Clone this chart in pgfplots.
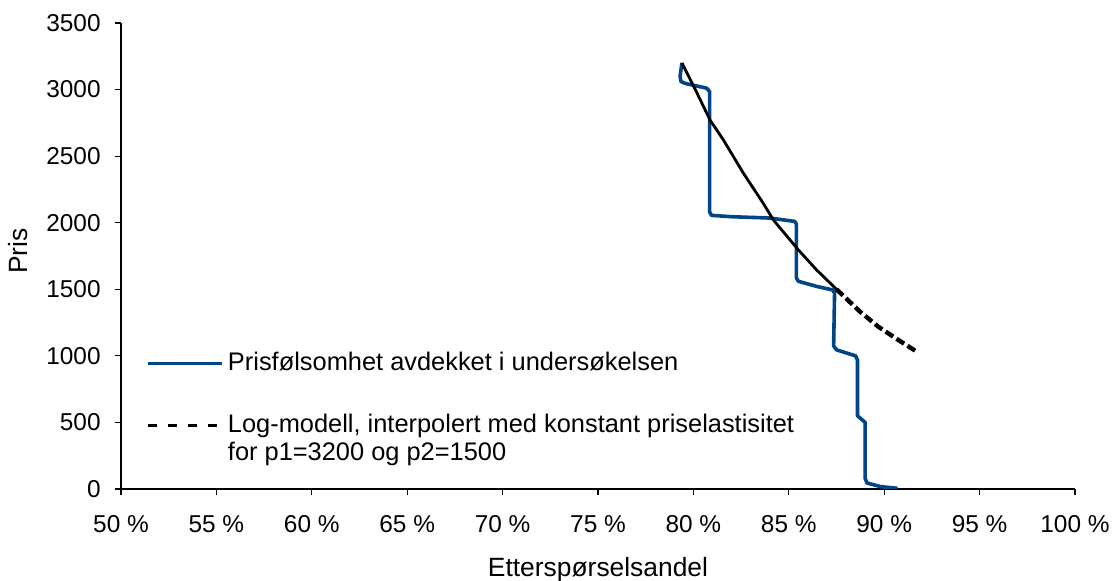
\documentclass[border=0pt]{standalone}
\usepackage{pgfplots}
\pgfplotsset{compat=1.18}
\usepackage{fontspec}
\setmainfont{Liberation Sans}
\definecolor{bluel}{RGB}{0,69,134}
\begin{document}
\fontsize{12pt}{14pt}\selectfont
\begin{tikzpicture}[font=\fontsize{12pt}{14pt}\selectfont]
\path[use as bounding box] (-60.5pt,-46pt) rectangle (499.5pt,244.5pt);
\begin{axis}[
  at={(0,0)}, anchor=south west,
  width=477pt, height=233pt, scale only axis,
  xmin=50, xmax=100, ymin=0, ymax=3500,
  axis x line*=bottom, axis y line*=left,
  axis line style={-, black, line width=0.6pt},
  xtick={50,55,...,100},
  xticklabels={50 \%,55 \%,60 \%,65 \%,70 \%,75 \%,80 \%,85 \%,90 \%,95 \%,100 \%},
  ytick={0,500,...,3500},
  tick align=outside,
  major tick length=3pt,
  tick style={black, line width=0.6pt},
  tick label style={font=\fontsize{12.2pt}{14pt}\selectfont},
  yticklabel style={/pgf/number format/1000 sep={}, /pgf/number format/assume math mode=true, inner sep=0pt, anchor=east, xshift=-7pt},
  xticklabel style={inner sep=0pt, anchor=north, yshift=-10pt},
  xlabel={Etterspørselsandel},
  xlabel style={at={(axis description cs:0.5,-0.1882)}, anchor=base, inner sep=0pt, font=\fontsize{13.2pt}{14pt}\selectfont},
  ylabel={Pris},
  ylabel style={at={(axis description cs:-0.09853,0.5107)}, anchor=base, inner sep=0pt, font=\fontsize{13.2pt}{14pt}\selectfont},
  legend cell align=left,
  legend image code/.code={\draw[#1] (0pt,0pt) -- (37pt,0pt);},
  legend style={at={(axis description cs:0.0262,0.294)}, anchor=north west, draw=none, fill=none, inner sep=0pt, row sep=20pt, column sep=2pt, font=\fontsize{12.7pt}{14pt}\selectfont, nodes={inner sep=0pt}},
]
\addplot[bluel, line width=1.8pt, line join=round] coordinates {
(79.4,3200)(79.3,3100)(79.35,3060)(79.6,3045)(80.7,3010)(80.85,2985)
(80.85,2080)(80.95,2055)(82,2045)(84,2035)(85.3,2010)(85.4,1990)
(85.4,1585)(85.5,1560)(86.5,1520)(87.3,1495)(87.4,1470)
(87.35,1075)(87.5,1045)(88.5,1000)(88.6,970)
(88.6,550)(89.0,500)(89.0,80)(89.1,45)(89.8,18)(90.7,5)
};
\addlegendentry{Prisfølsomhet avdekket i undersøkelsen}
\addplot[black, line width=1.4pt, forget plot] coordinates {
(79.4,3200)(80.1,3000)(80.87,2772)(81.57,2622)(82.62,2372)(83.66,2146)
(84.19,2021)(85.5,1796)(86.46,1645)(87.5,1500)
};
\addplot[black, line width=2.2pt, dash pattern=on 4.5pt off 2pt,
  legend image code/.code={\draw[black, line width=1.6pt, dash pattern=on 4.5pt off 5.5pt] (0pt,0pt) -- (37pt,0pt);}] coordinates {
(87.5,1500)(88.73,1332)(89.69,1219)(90.74,1119)(91.7,1032)
};
\addlegendentry{\vtop{\baselineskip=14pt\hbox{Log-modell, interpolert med konstant priselastisitet}\hbox{for p1=3200 og p2=1500}}}
\end{axis}
\end{tikzpicture}
\end{document}
